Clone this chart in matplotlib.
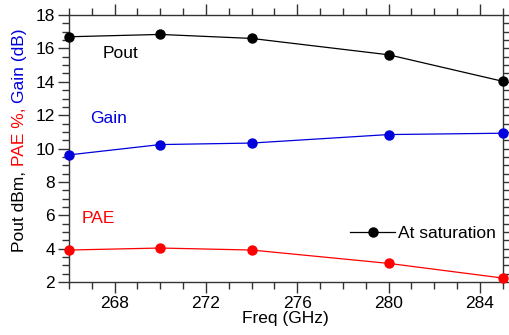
import matplotlib.pyplot as plt
from matplotlib.lines import Line2D
from matplotlib.ticker import MultipleLocator

plt.rcParams['font.family'] = ['Liberation Sans', 'DejaVu Sans']

# datos
freq = [266, 270, 274, 280, 285]
pout = [16.7, 16.84, 16.6, 15.62, 14.03]
gain = [9.62, 10.24, 10.33, 10.84, 10.92]
pae = [3.92, 4.04, 3.92, 3.12, 2.24]

fs = 12.5

fig = plt.figure(figsize=(5.1, 3.35), dpi=100)
ax = fig.add_axes([0.135, 0.158, 0.851, 0.797])

ax.plot(freq, pout, '-o', color='black', lw=0.9, ms=6.5, clip_on=False, zorder=3)
ax.plot(freq, gain, '-o', color='#0000dd', lw=0.9, ms=6.5, clip_on=False, zorder=3)
ax.plot(freq, pae, '-o', color='#ff0000', lw=0.9, ms=6.5, clip_on=False, zorder=3)

ax.set_xlim(266, 285)
ax.set_ylim(2, 18)
ax.xaxis.set_major_locator(MultipleLocator(4))
ax.xaxis.set_minor_locator(MultipleLocator(1))
ax.yaxis.set_major_locator(MultipleLocator(2))
ax.yaxis.set_minor_locator(MultipleLocator(0.5))
ax.set_xticks([268, 272, 276, 280, 284])
ax.tick_params(which='both', direction='out', top=True, right=True,
               labelsize=fs, color='#333333', width=1, pad=2)
ax.tick_params(which='major', length=8)
ax.tick_params(which='minor', length=5)
for s in ax.spines.values():
    s.set_color('#333333')
    s.set_linewidth(1)

ax.set_xlabel('Freq (GHz)', fontsize=fs, labelpad=0)

# etiquetas de las curvas
ax.text(267.5, 15.72, 'Pout', fontsize=fs, color='black', va='center')
ax.text(266.92, 11.83, 'Gain', fontsize=fs, color='#0000dd', va='center')
ax.text(266.57, 5.83, 'PAE', fontsize=fs, color='#ff0000', va='center')

h = Line2D([], [], color='black', marker='o', lw=0.9, ms=6.5)
ax.legend([h], ['At saturation'], loc='center right', frameon=False,
          bbox_to_anchor=(1.0, 0.183), borderaxespad=0, fontsize=fs,
          handlelength=2.6, handletextpad=0.15)

# etiqueta y en varios colores
parts = [('Pout dBm, ', 'black'), ('PAE %, ', '#ff0000'), ('Gain (dB)', '#0000dd')]
fig.canvas.draw()
r = fig.canvas.get_renderer()
ypix = 252
for txt, c in parts:
    t = fig.text(20 / 510, 1 - ypix / 335, txt, rotation=90, color=c, fontsize=fs,
                 ha='center', va='bottom')
    bb = t.get_window_extent(r)
    ypix -= bb.height

plt.savefig('out.png', dpi=100)
